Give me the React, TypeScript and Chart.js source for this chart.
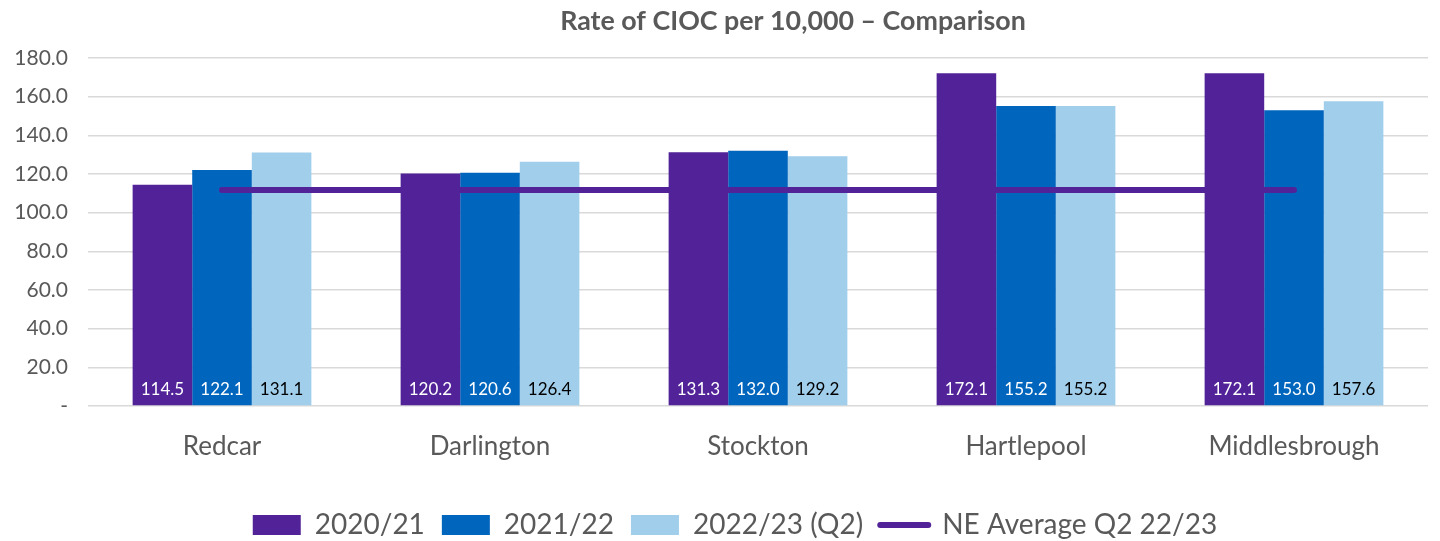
import React, { useEffect, useRef } from "react";
import { Chart, registerables } from "chart.js";

Chart.register(...registerables);

const categories = ["Redcar", "Darlington", "Stockton", "Hartlepool", "Middlesbrough"];
const series2020 = [114.5, 120.2, 131.3, 172.1, 172.1];
const series2021 = [122.1, 120.6, 132.0, 155.2, 153.0];
const series2022 = [131.1, 126.4, 129.2, 155.2, 157.6];
const neAverage = [111.7, 111.7, 111.7, 111.7, 111.7];
const yTicks = [0, 20, 40, 60, 80, 100, 120, 140, 160, 180];
const titleText = "Rate of CIOC per 10,000 \u2013 Comparison";

const PURPLE = "#522398";
const BLUE = "#0065BD";
const LIGHT = "#A0CEEB";
const GRAY = "#595959";
const FONT = "Lato, 'Open Sans', sans-serif";

const labelPlugin = {
  id: "barLabels",
  afterDatasetsDraw(chart: any) {
    const ctx = chart.ctx;
    const bottom = chart.scales.y.bottom;
    ctx.save();
    ctx.font = `17px ${FONT}`;
    ctx.textAlign = "center";
    ctx.textBaseline = "middle";
    chart.data.datasets.forEach((ds: any, di: number) => {
      if (ds.type === "line") return;
      const meta = chart.getDatasetMeta(di);
      meta.data.forEach((el: any, i: number) => {
        ctx.fillStyle = ds.label === "2022/23 (Q2)" ? "#000000" : "#ffffff";
        ctx.fillText(Number(ds.data[i]).toFixed(1), el.x, bottom - 16);
      });
    });
    ctx.restore();
  },
};

const titlePlugin = {
  id: "customTitle",
  afterLayout(chart: any) {
    if (chart.legend) {
      chart.legend.left += 21;
      chart.legend.right += 21;
    }
  },
  afterDraw(chart: any) {
    const ctx = chart.ctx;
    ctx.save();
    ctx.font = `bold 26.8px ${FONT}`;
    ctx.fillStyle = GRAY;
    ctx.textAlign = "center";
    ctx.textBaseline = "middle";
    ctx.fillText(titleText, 793, 21);
    ctx.restore();
  },
};

export default function App() {
  const ref = useRef<HTMLCanvasElement>(null);
  useEffect(() => {
    if (!ref.current) return;
    const chart = new Chart(ref.current, {
      type: "bar",
      data: {
        labels: categories,
        datasets: [
          { type: "line", label: "NE Average Q2 22/23", data: neAverage, borderColor: PURPLE, backgroundColor: PURPLE, borderWidth: 6, borderCapStyle: "round", pointRadius: 0, order: 0 } as any,
          { label: "2020/21", data: series2020, backgroundColor: PURPLE, order: 1 },
          { label: "2021/22", data: series2021, backgroundColor: BLUE, order: 1 },
          { label: "2022/23 (Q2)", data: series2022, backgroundColor: LIGHT, order: 1 },
        ],
      },
      options: {
        animation: false,
        responsive: true,
        maintainAspectRatio: false,
        layout: { padding: { top: 58, right: 12, left: 0, bottom: -8 } },
        datasets: { bar: { categoryPercentage: 0.667, barPercentage: 1.0 } },
        plugins: {
          title: { display: false },
          tooltip: { enabled: false },
          legend: {
            position: "bottom",
            labels: {
              usePointStyle: true,
              pointStyleWidth: 48,
              boxHeight: 20,
              padding: 17,
              color: GRAY,
              font: { family: FONT, size: 28 },
              sort: (a: any, b: any) => {
                const o = (t: string) => (t === "NE Average Q2 22/23" ? 9 : 0);
                return o(a.text) - o(b.text) || a.datasetIndex - b.datasetIndex;
              },
              generateLabels: (chart: any) =>
                chart.data.datasets.map((ds: any, i: number) => {
                  const isLine = ds.type === "line";
                  return {
                    text: ds.label,
                    datasetIndex: i,
                    fillStyle: isLine ? PURPLE : ds.backgroundColor,
                    strokeStyle: isLine ? PURPLE : ds.backgroundColor,
                    lineWidth: isLine ? 6 : 0,
                    lineCap: isLine ? "round" : "butt",
                    pointStyle: isLine ? "line" : "rect",
                    fontColor: GRAY,
                    hidden: false,
                  };
                }),
            },
          },
        },
        scales: {
          x: {
            grid: { display: false },
            border: { display: false },
            ticks: { color: GRAY, font: { family: FONT, size: 26 }, padding: 17 },
            afterFit: (s: any) => { s.height = 88; },
          },
          y: {
            min: 0,
            max: 180,
            afterBuildTicks: (s: any) => { s.ticks = yTicks.map((v) => ({ value: v })); },
            grid: { color: "#D9D9D9", lineWidth: 1.5, drawTicks: false },
            border: { display: false },
            ticks: {
              color: GRAY,
              font: { family: FONT, size: 21 },
              padding: 20,
              callback: (v: any) => (Number(v) === 0 ? "-" : Number(v).toFixed(1)),
            },
            afterFit: (s: any) => { s.width = 88; },
          },
        },
      },
      plugins: [labelPlugin, titlePlugin],
    });
    return () => chart.destroy();
  }, []);
  return (
    <div style={{ position: "fixed", left: 0, top: 0, width: 1440, height: 541, background: "#fff" }}>
      <canvas ref={ref} />
    </div>
  );
}
